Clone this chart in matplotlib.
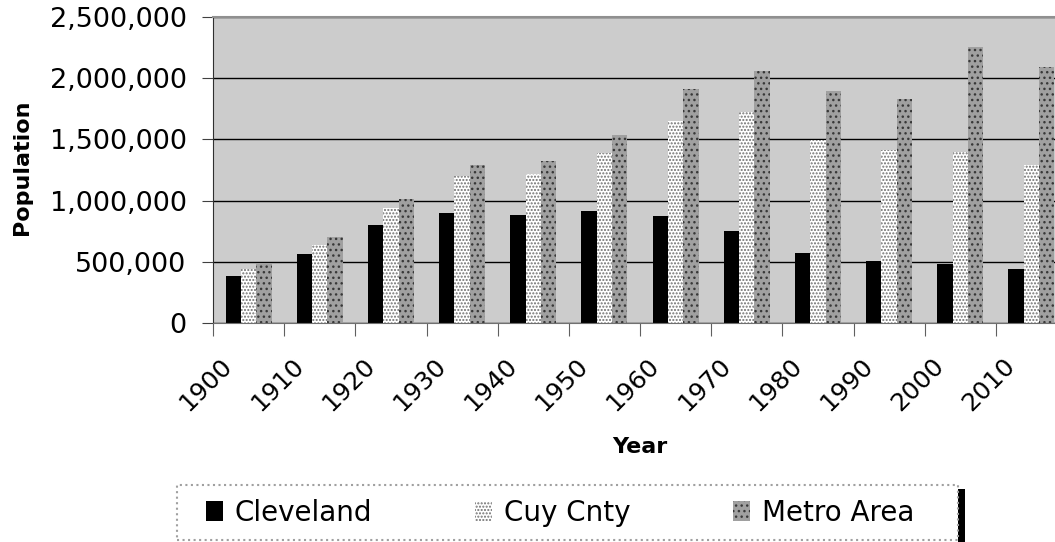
import numpy as np
import matplotlib
matplotlib.use('Agg')
import matplotlib.pyplot as plt
from matplotlib.patches import Rectangle
from matplotlib.ticker import FuncFormatter

# population by census year
years = ['1900', '1910', '1920', '1930', '1940', '1950',
	'1960', '1970', '1980', '1990', '2000', '2010']
cleveland = [381768, 560663, 796841, 900429, 878336, 914808,
	876050, 750903, 573822, 505616, 478403, 440000]
cuy_cnty = [439120, 637425, 943495, 1201455, 1217250, 1389532,
	1647895, 1721300, 1498400, 1412140, 1393978, 1290000]
metro_area = [490000, 703000, 1010000, 1288000, 1321000, 1533000,
	1912000, 2059000, 1895000, 1830000, 2255000, 2092000]

W, H = 1055, 542
plt.rcParams['hatch.linewidth'] = 1.0

fig = plt.figure(figsize=(W / 100, H / 100), dpi=100)
# plot area runs past the right edge of the picture, as in the original
ax = fig.add_axes([213 / W, 219 / H, 854 / W, 306 / H])
ax.set_facecolor('#cccccc')

x = np.arange(len(years))
w = 0.215
ax.bar(x - w, cleveland, w, color='black', linewidth=0, label='Cleveland')
ax.bar(x, cuy_cnty, w, facecolor='white', edgecolor='#707070', hatch='.....',
	linewidth=0, label='Cuy Cnty')
ax.bar(x + w, metro_area, w, facecolor='#a0a0a0', edgecolor='#383838', hatch='...',
	linewidth=0, label='Metro Area')

ax.set_xlim(-0.5, len(years) - 0.5)
ax.set_ylim(0, 2500000)
ax.set_yticks(np.arange(0, 2500001, 500000))
ax.yaxis.set_major_formatter(FuncFormatter(lambda v, p: f"{v:,.0f}"))
ax.yaxis.grid(True, color='black', linewidth=1)
ax.set_axisbelow(True)

# category boundaries get the tick marks, labels sit near the centres
ax.set_xticks(np.arange(len(years) + 1) - 0.5)
ax.set_xticks(x - 0.28, years, minor=True)
ax.tick_params(axis='x', which='major', length=9, color='#606060', labelbottom=False)
ax.tick_params(axis='x', which='minor', length=0, pad=28, labelsize=18, labelrotation=45)
for lab in ax.get_xticklabels(minor=True):
	lab.set_ha('right')
	lab.set_va('center')
	lab.set_rotation_mode('anchor')
ax.tick_params(axis='y', length=8, pad=11, labelsize=19.5, color='#404040')

ax.spines['right'].set_visible(False)
ax.spines['top'].set_color('#909090')
ax.spines['top'].set_linewidth(1.5)
ax.spines['bottom'].set_color('#707070')
ax.spines['left'].set_color('#303030')

ax.set_ylabel('Population', fontsize=16, fontweight='bold')
ax.yaxis.set_label_coords(-0.212, 0.51)
ax.set_xlabel('Year', fontsize=16, fontweight='bold')
ax.xaxis.set_label_coords(0.5, -0.3725)

# legend box with a black shadow on its right side
fig.add_artist(Rectangle((958 / W, 0), 7 / W, 53 / H, transform=fig.transFigure,
	facecolor='black', edgecolor='none', zorder=1))
fig.add_artist(Rectangle((177 / W, 2 / H), 781 / W, 55 / H, transform=fig.transFigure,
	facecolor='white', edgecolor='#a0a0a0', linestyle=':', linewidth=1.5, zorder=2))
fig.legend(loc='center', bbox_to_anchor=(0.531, 0.0544), ncol=3, frameon=False,
	fontsize=20, handlelength=0.6, handleheight=0.75, handletextpad=0.43,
	columnspacing=3.7)

fig.savefig('out.png', dpi=100)
